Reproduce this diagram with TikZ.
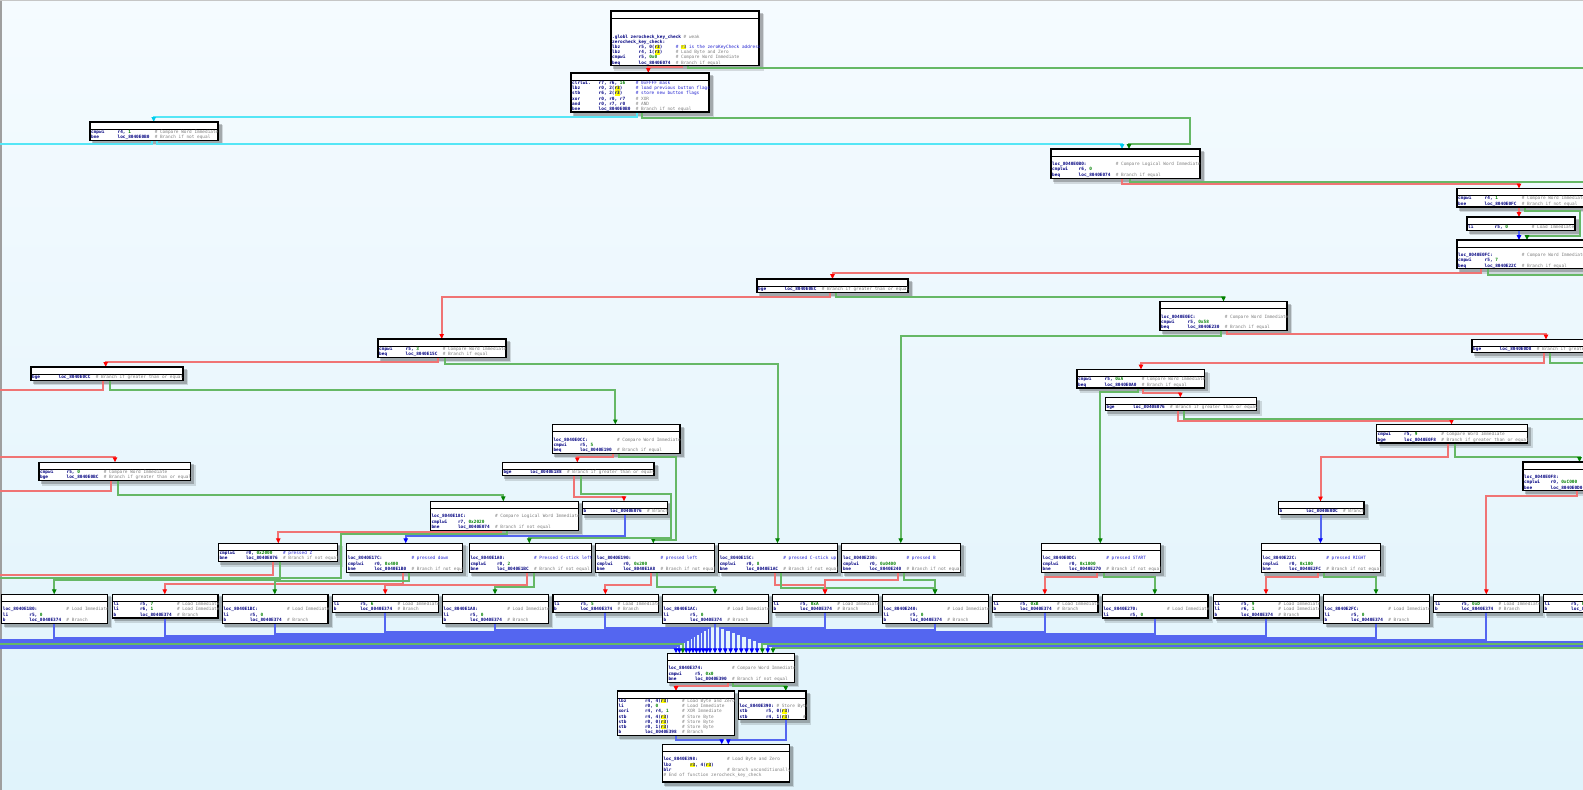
\documentclass[tikz,border=0pt]{standalone}
\usepackage{fontspec}
\newfontfamily\idamono{DejaVu Sans Mono}
\usetikzlibrary{arrows.meta}
\pgfdeclarelayer{back}
\pgfdeclarelayer{edges}
\pgfsetlayers{back,edges,main}
\definecolor{redl}{HTML}{F07474}
\definecolor{redd}{HTML}{FF0000}
\definecolor{greenl}{HTML}{66B866}
\definecolor{greend}{HTML}{008000}
\definecolor{bluel}{HTML}{5466F0}
\definecolor{blued}{HTML}{0000FF}
\definecolor{cyanl}{HTML}{55E6F6}
\definecolor{cyand}{HTML}{00CCEE}
\definecolor{idanavy}{HTML}{000080}
\definecolor{cgray}{HTML}{808080}
\definecolor{ublue}{HTML}{2020D0}
\definecolor{ngreen}{HTML}{008000}
\definecolor{hly}{HTML}{FFFF00}
\definecolor{bgtop}{HTML}{F5FBFF}
\definecolor{bgbot}{HTML}{E0F3FB}
\newcommand\idaf{\idamono\fontsize{4.4}{5.2}\selectfont\baselineskip=5.2pt\lineskiplimit=-4pt\lineskip=0pt}
\newlength\opc \setlength\opc{26.5pt}
\newlength\cmc \setlength\cmc{37.1pt}
\newcommand\inv[1]{{\bfseries\color{idanavy}#1}}
\newcommand\icm[1]{{\mdseries\color{cgray}\# #1}}
\newcommand\iuc[1]{{\mdseries\color{ublue}\# #1}}
\newcommand\inm[1]{{\color{ngreen}#1}}
\newcommand\Rg[1]{\rlap{\color{hly}\rule[-1pt]{5.3pt}{4.5pt}}#1}
\newcommand\In[3]{\hbox{\makebox[\opc][l]{\inv{#1}}\makebox[\cmc][l]{\inv{#2}}#3}}
\newcommand\Lb[2]{\hbox{\makebox[63.6pt][l]{\inv{#1}}#2}}
\newcommand\Eb{\hbox{}}
\newcommand\Clab[1]{\Eb\Lb{loc\_#1:}{\icm{Load Immediate}}\In{li}{r5, \inm{0}}{}\In{b}{loc\_8040E374}{\icm{Branch}}}
\newcommand\Cli[1]{\In{li}{r5, \inm{#1}}{\icm{Load Immediate}}\In{b}{loc\_8040E374}{\icm{Branch}}}
\tikzset{
  ed/.style={line width=2pt},
  er/.style={ed,draw=redl,-{Triangle[length=5pt,width=4.4pt,color=redd]}},
  erx/.style={ed,draw=redl},
  eg/.style={ed,draw=greenl,-{Triangle[length=5pt,width=4.4pt,color=greend]}},
  egx/.style={ed,draw=greenl},
  eb/.style={ed,draw=bluel,-{Triangle[length=5pt,width=4.4pt,color=blued]}},
  ec/.style={ed,draw=cyanl,-{Triangle[length=5pt,width=4.4pt,color=cyand]}},
  ecx/.style={ed,draw=cyanl},
  boxst/.style={draw=black,line width=1.2pt,fill=white,inner sep=0pt,outer sep=0pt,anchor=north west},
}
\newcommand\blk[6]{%
  \begin{pgfonlayer}{back}
    \fill[black,opacity=.22] (#2+2,#3+2) rectangle (#4+3.5,#5+3.5);
    \fill[black,opacity=.13] (#2+3,#3+3) rectangle (#4+5,#5+5);
  \end{pgfonlayer}
  \node[boxst,minimum width={(#4-#2)*1pt},minimum height={(#5-#3)*1pt}] (#1) at (#2,#3) {};
  \draw[line width=.9pt] (#2,#3+7) -- (#4,#3+7);
  \begin{scope}
    \clip (#2,#3) rectangle (#4,#5);
    \node[anchor=base west,inner sep=0pt,outer sep=0pt] at (#2+1.2,#3+11.4) {\idaf\vtop{#6}};
  \end{scope}%
}
\begin{document}
\begin{tikzpicture}[x=1pt,y=-1pt]
\useasboundingbox (0,0) rectangle (1583,790);
\begin{pgfonlayer}{back}
  \shade[top color=bgtop,bottom color=bgbot] (0,0) rectangle (1583,790);
  \fill[gray!75] (0,0) rectangle (1.6,790);
  \fill[gray!45] (0,0) rectangle (1583,0.8);
\end{pgfonlayer}

% ---------------- blocks ----------------
\blk{B0}{611}{11}{759}{65.5}{\Eb\Eb\Eb
  \hbox{\inv{.globl zerocheck\_key\_check} \icm{weak}}
  \hbox{\inv{zerocheck\_key\_check:}}
  \In{lbz}{r5, 0(\Rg{r3})}{\iuc{\Rg{r3} is the zeroKeyCheck address}}
  \In{lbz}{r4, 1(\Rg{r3})}{\icm{Load Byte and Zero}}
  \In{cmpwi}{r5, \inm{0x0}}{\icm{Compare Word Immediate}}
  \In{beq}{loc\_8040E074}{\icm{Branch if equal}}}
\blk{B1}{571}{73}{709}{112}{
  \In{clrlwi.}{r7, r6, \inm{16}}{\iuc{0xFFFF mask}}
  \In{lbz}{r0, 2(\Rg{r3})}{\iuc{load previous button flags}}
  \In{stb}{r6, 2(\Rg{r3})}{\iuc{store new button flags}}
  \In{xor}{r0, r0, r7}{\icm{XOR}}
  \In{and}{r0, r7, r0}{\icm{AND}}
  \In{bne}{loc\_8040E0B0}{\icm{Branch if not equal}}}
\blk{B2}{90}{122}{218}{140.4}{
  \In{cmpwi}{r4, \inm{1}}{\icm{Compare Word Immediate}}
  \In{bne}{loc\_8040E0B0}{\icm{Branch if not equal}}}
\blk{B3}{1051}{149}{1200}{178.8}{\Eb
  \Lb{loc\_8040E0B0:}{\icm{Compare Logical Word Immediate}}
  \In{cmplwi}{r6, \inm{0}}{}
  \In{beq}{loc\_8040E074}{\icm{Branch if equal}}}
\blk{B4}{1457}{188.5}{1600}{207}{
  \In{cmpwi}{r4, \inm{1}}{\icm{Compare Word Immediate}}
  \In{bne}{loc\_8040E0FC}{\icm{Branch if not equal}}}
\blk{B5}{1467}{217}{1575}{230.2}{
  \In{li}{r5, \inm{0}}{\icm{Load Immediate}}}
\blk{B6}{1457}{240}{1600}{268.8}{\Eb
  \Lb{loc\_8040E0FC:}{\icm{Compare Word Immediate}}
  \In{cmpwi}{r5, \inm{7}}{}
  \In{beq}{loc\_8040E22C}{\icm{Branch if equal}}}
\blk{B7}{757}{279}{908}{292.2}{
  \In{bge}{loc\_8040E0EC}{\icm{Branch if greater than or equal}}}
\blk{B8}{1160}{301.5}{1287}{330.3}{\Eb
  \Lb{loc\_8040E0EC:}{\icm{Compare Word Immediate}}
  \In{cmpwi}{r5, \inm{0x58}}{}
  \In{beq}{loc\_8040E230}{\icm{Branch if equal}}}
\blk{B9}{378}{339}{506}{357.4}{
  \In{cmpwi}{r5, \inm{3}}{\icm{Compare Word Immediate}}
  \In{beq}{loc\_8040E15C}{\icm{Branch if equal}}}
\blk{B10}{31}{367}{183}{380.2}{
  \In{bge}{loc\_8040E0CC}{\icm{Branch if greater than or equal}}}
\blk{B11}{39}{462.3}{190.7}{480.7}{
  \In{cmpwi}{r5, \inm{0}}{\icm{Compare Word Immediate}}
  \In{bge}{loc\_8040E0BC}{\icm{Branch if greater than or equal}}}
\blk{B12}{1472}{339.5}{1600}{352.7}{
  \In{bge}{loc\_8040E0D8}{\icm{Branch if greater than or equal}}}
\blk{B13}{1077}{369.5}{1204.5}{387.9}{
  \In{cmpwi}{r5, \inm{0xA}}{\icm{Compare Word Immediate}}
  \In{beq}{loc\_8040E0A0}{\icm{Branch if equal}}}
\blk{B14}{1105.4}{397.5}{1256.5}{410.7}{
  \In{bge}{loc\_8040E076}{\icm{Branch if greater than or equal}}}
\blk{B15}{1376.5}{424.5}{1527.5}{442.9}{
  \In{cmpwi}{r5, \inm{9}}{\icm{Compare Word Immediate}}
  \In{bge}{loc\_8040E0F8}{\icm{Branch if greater than or equal}}}
\blk{B16}{1523}{462}{1600}{490.8}{\Eb
  \Lb{loc\_8040E0F8:}{\icm{Compare Logical Word Immediate}}
  \In{cmplwi}{r0, \inm{0xC000}}{}
  \In{bne}{loc\_8040E0D0}{\icm{Branch if not equal}}}
\blk{B17}{1278.3}{501.5}{1364}{514.7}{
  \In{b}{loc\_8040E0DC}{\icm{Branch}}}
\blk{B18}{552.3}{424.5}{680}{453.3}{\Eb
  \Lb{loc\_8040E0CC:}{\icm{Compare Word Immediate}}
  \In{cmpwi}{r5, \inm{5}}{}
  \In{beq}{loc\_8040E190}{\icm{Branch if equal}}}
\blk{B19}{502.3}{462.5}{654}{475.7}{
  \In{bge}{loc\_8040E188}{\icm{Branch if greater than or equal}}}
\blk{B20}{582.3}{501.3}{667.3}{514.5}{
  \In{b}{loc\_8040E076}{\icm{Branch}}}
\blk{B21}{430.3}{501.3}{578.3}{530.1}{\Eb
  \Lb{loc\_8040E18C:}{\icm{Compare Logical Word Immediate}}
  \In{cmplwi}{r7, \inm{0x2020}}{}
  \In{bne}{loc\_8040E074}{\icm{Branch if not equal}}}
\blk{B22}{218.3}{543.3}{337.7}{561.7}{
  \In{cmplwi}{r0, \inm{0x2000}}{\iuc{pressed Z}}
  \In{bne}{loc\_8040E076}{\icm{Branch if not equal}}}
\blk{B23}{346.7}{543.3}{462.5}{572.1}{\Eb
  \Lb{loc\_8040E17C:}{\iuc{pressed down}}
  \In{cmplwi}{r0, \inm{0x400}}{}
  \In{bne}{loc\_8040E1B0}{\icm{Branch if not equal}}}
\blk{B24}{469.3}{543.3}{591.8}{572.1}{\Eb
  \Lb{loc\_8040E1A0:}{\iuc{Pressed C-stick left}}
  \In{cmplwi}{r0, \inm{2}}{}
  \In{bne}{loc\_8040E1BC}{\icm{Branch if not equal}}}
\blk{B25}{595.7}{543.3}{714.6}{572.1}{\Eb
  \Lb{loc\_8040E190:}{\iuc{pressed left}}
  \In{cmplwi}{r0, \inm{0x200}}{}
  \In{bne}{loc\_8040E1A8}{\icm{Branch if not equal}}}
\blk{B26}{718.6}{543.3}{837.5}{572.1}{\Eb
  \Lb{loc\_8040E15C:}{\iuc{pressed C-stick up}}
  \In{cmplwi}{r0, \inm{8}}{}
  \In{bne}{loc\_8040E1AC}{\icm{Branch if not equal}}}
\blk{B27}{841.8}{543.3}{960.7}{572.1}{\Eb
  \Lb{loc\_8040E230:}{\iuc{pressed B}}
  \In{cmplwi}{r0, \inm{0x0400}}{}
  \In{bne}{loc\_8040E240}{\icm{Branch if not equal}}}
\blk{B28}{1041.5}{543.3}{1160.8}{572.1}{\Eb
  \Lb{loc\_8040E0DC:}{\iuc{pressed START}}
  \In{cmplwi}{r0, \inm{0x1000}}{}
  \In{bne}{loc\_8040E270}{\icm{Branch if not equal}}}
\blk{B29}{1261.5}{543.3}{1380.8}{572.1}{\Eb
  \Lb{loc\_8040E22C:}{\iuc{pressed RIGHT}}
  \In{cmplwi}{r0, \inm{0x100}}{}
  \In{bne}{loc\_8040E2FC}{\icm{Branch if not equal}}}
% C row
\blk{C1}{1.7}{594.3}{107.4}{623.1}{\Clab{8040E1B0}}
\blk{C2}{112.3}{594.3}{218}{617.9}{
  \In{li}{r5, \inm{7}}{\icm{Load Immediate}}
  \In{li}{r6, \inm{1}}{\icm{Load Immediate}}
  \In{b}{loc\_8040E374}{\icm{Branch}}}
\blk{C3}{222.3}{594.3}{328}{623.1}{\Clab{8040E1BC}}
\blk{C4}{332.7}{594.3}{438.4}{612.7}{\Cli{6}}
\blk{C5}{442.5}{594.3}{548.2}{623.1}{\Clab{8040E1A8}}
\blk{C6}{552.9}{594.3}{658.6}{612.7}{\Cli{5}}
\blk{C7}{662.5}{594.3}{768.2}{623.1}{\Clab{8040E1AC}}
\blk{C8}{772.5}{594.3}{878.2}{612.7}{\Cli{0xA}}
\blk{C9}{882.5}{594.3}{988.2}{623.1}{\Clab{8040E240}}
\blk{C10}{992.3}{594.3}{1098}{612.7}{\Cli{0xB}}
\blk{C11}{1102.3}{594.3}{1208}{617.9}{\Eb
  \Lb{loc\_8040E270:}{\icm{Load Immediate}}
  \In{li}{r5, \inm{0}}{}}
\blk{C12}{1213.5}{594.3}{1319.2}{617.9}{
  \In{li}{r5, \inm{9}}{\icm{Load Immediate}}
  \In{li}{r6, \inm{1}}{\icm{Load Immediate}}
  \In{b}{loc\_8040E374}{\icm{Branch}}}
\blk{C13}{1323.5}{594.3}{1429.2}{623.1}{\Clab{8040E2FC}}
\blk{C14}{1433.8}{594.3}{1539.5}{612.7}{\Cli{0xD}}
\blk{C15}{1543.5}{594.3}{1649.2}{612.7}{\Cli{0xC}}
% bottom
\blk{D1}{667.3}{653.3}{794.3}{682.1}{\Eb
  \Lb{loc\_8040E374:}{\icm{Compare Word Immediate}}
  \In{cmpwi}{r5, \inm{0x0}}{}
  \In{bne}{loc\_8040E390}{\icm{Branch if not equal}}}
\blk{D2}{617.3}{691}{734.3}{735.4}{
  \In{lbz}{r4, 4(\Rg{r3})}{\icm{Load Byte and Zero}}
  \In{li}{r0, \inm{0}}{\icm{Load Immediate}}
  \In{xori}{r4, r4, \inm{1}}{\icm{XOR Immediate}}
  \In{stb}{r4, 4(\Rg{r3})}{\icm{Store Byte}}
  \In{stb}{r0, 0(\Rg{r3})}{\icm{Store Byte}}
  \In{stb}{r0, 1(\Rg{r3})}{\icm{Store Byte}}
  \In{b}{loc\_8040E398}{\icm{Branch}}}
\blk{D3}{738.3}{691}{806}{719.8}{\Eb
  \hbox{\makebox[37pt][l]{\inv{loc\_8040E390:}}\icm{Store Byte}}
  \In{stb}{r5, 0(\Rg{r3})}{}
  \In{stb}{r4, 1(\Rg{r3})}{\icm{Store Byte}}}
\blk{D4}{662.3}{744.3}{789.3}{782}{\Eb
  \Lb{loc\_8040E398:}{\icm{Load Byte and Zero}}
  \In{lbz}{\Rg{r3}, 4(\Rg{r3})}{}
  \In{blr}{}{\icm{Branch unconditionally}}
  \hbox{\icm{End of function zerocheck\_key\_check}}
  \Eb}

% free ends
\coordinate (xa) at (1583,68.2);
\coordinate (xb) at (0,143.5);
\coordinate (xc) at (1583,181.5);
\coordinate (xd) at (1583,275);
\coordinate (xe) at (0,390);
\coordinate (xf) at (0,456.7);
\coordinate (xg) at (0,490.5);
\coordinate (xh) at (1583,362.5);
\coordinate (xi) at (1583,418.5);
\coordinate (xj) at (0,577.8);
\coordinate (xk) at (0,575.4);
\coordinate (bl6) at (0,639.5);
\coordinate (bl7) at (0,641.5);
\coordinate (bl8) at (0,643.5);
\coordinate (bl9) at (0,645.5);
\coordinate (bl10) at (0,647.5);
\coordinate (br7) at (1583,641.5);
\coordinate (br8) at (1583,643.5);
\coordinate (br9) at (1583,645.5);
\coordinate (br10) at (1583,647.5);

% ---------------- edges ----------------
\begin{pgfonlayer}{edges}
\draw[er] (B0.south -| 681.7,0) |- (648.3,66.7) -- (B1.north -| 648.3,0);
\draw[egx] (B0.south -| 688.3,0) |- (xa);
\draw[ec] (B1.south -| 637.3,0) |- (153.7,117) -- (B2.north -| 153.7,0);
\draw[eg] (B1.south -| 642.3,0) |- (1190,118) |- (1129,144) -- (B3.north -| 1129,0);
\draw[ec] (B2.south -| 156.7,0) |- (1122,143.5) -- (B3.north -| 1122,0);
\draw[ecx] (B2.south -| 151.5,0) |- (xb);
\draw[er] (B3.south -| 1122,0) |- (1519,183.5) -- (B4.north -| 1519,0);
\draw[egx] (B3.south -| 1130,0) |- (xc);
\draw[er] (B4.south -| 1519,0) -- (B5.north -| 1519,0);
\draw[eg] (B4.south -| 1525,0) |- (1580,210.5) |- (1527,235.5) -- (B6.north -| 1527,0);
\draw[eb] (B5.south -| 1519,0) -- (B6.north -| 1519,0);
\draw[er] (B6.south -| 1481,0) |- (832.5,273) -- (B7.north -| 832.5,0);
\draw[egx] (B6.south -| 1488,0) |- (xd);
\draw[er] (B7.south -| 830,0) |- (441.7,296.5) -- (B9.north -| 441.7,0);
\draw[eg] (B7.south -| 836,0) |- (1223.5,296.5) -- (B8.north -| 1223.5,0);
\draw[er] (B8.south -| 1227,0) |- (1546,334) -- (B12.north -| 1546,0);
\draw[eg] (B8.south -| 1221,0) |- (900.7,335.5) -- (B27.north -| 900.7,0);
\draw[er] (B9.south -| 438.3,0) |- (105.7,361.7) -- (B10.north -| 105.7,0);
\draw[eg] (B9.south -| 445,0) |- (777.5,363.5) -- (B26.north -| 777.5,0);
\draw[erx] (B10.south -| 102.7,0) |- (xe);
\draw[eg] (B10.south -| 110,0) |- (615.3,390) -- (B18.north -| 615.3,0);
\draw[er] (xf) -| (B11.north -| 115,0);
\draw[erx] (B11.south -| 111,0) |- (xg);
\draw[eg] (B11.south -| 117.7,0) |- (503.3,494.7) -- (B21.north -| 503.3,0);
\draw[er] (B12.south -| 1544,0) |- (1141,362.5) -- (B13.north -| 1141,0);
\draw[egx] (B12.south -| 1550,0) |- (xh);
\draw[er] (B13.south -| 1142.9,0) |- (1180.3,392.5) -- (B14.north -| 1180.3,0);
\draw[eg] (B13.south -| 1137.8,0) |- (1100.3,391.5) -- (B28.north -| 1100.3,0);
\draw[er] (B14.south -| 1177.6,0) |- (1451.5,421) -- (B15.north -| 1451.5,0);
\draw[egx] (B14.south -| 1183.7,0) |- (xi);
\draw[er] (B15.south -| 1448.3,0) |- (1320.5,456.7) -- (B17.north -| 1320.5,0);
\draw[eg] (B15.south -| 1455,0) |- (1579.5,456.7) -- (B16.north -| 1579.5,0);
\draw[er] (B16.south -| 1577,0) |- (1486.3,495.5) -- (C14.north -| 1486.3,0);
\draw[eb] (B17.south -| 1320.5,0) -- (B29.north -| 1320.5,0);
\draw[er] (B18.south -| 613.3,0) |- (577.3,456.7) -- (B19.north -| 577.3,0);
\draw[eg] (B18.south -| 618.7,0) |- (675.5,456.7) |- (653.3,540) -- (B25.north -| 653.3,0);
\draw[er] (B19.south -| 574,0) |- (624,496.5) -- (B20.north -| 624,0);
\draw[eg] (B19.south -| 580.7,0) |- (670.5,493.5) |- (529.3,538.3) -- (B24.north -| 529.3,0);
\draw[eb] (B20.south -| 625,0) |- (405.7,536) -- (B23.north -| 405.7,0);
\draw[er] (B21.south -| 500.7,0) |- (278.3,532) -- (B22.north -| 278.3,0);
\draw[egx] (B21.south -| 506.7,0) |- (341,534.3) |- (xj);
\draw[erx] (B22.south -| 273.3,0) |- (xk);
\draw[eg] (B22.south -| 280,0) |- (54.2,580) -- (C1.north -| 54.2,0);
\draw[er] (B23.south -| 403.3,0) |- (164.8,583.5) -- (C2.north -| 164.8,0);
\draw[eg] (B23.south -| 409,0) |- (274.8,581.2) -- (C3.north -| 274.8,0);
\draw[er] (B24.south -| 527,0) |- (385.2,584.5) -- (C4.north -| 385.2,0);
\draw[eg] (B24.south -| 534.3,0) |- (495,587) -- (C5.north -| 495,0);
\draw[er] (B25.south -| 651.4,0) |- (605.4,584.5) -- (C6.north -| 605.4,0);
\draw[eg] (B25.south -| 657,0) |- (715,587) -- (C7.north -| 715,0);
\draw[er] (B26.south -| 774.6,0) |- (825,584.5) -- (C8.north -| 825,0);
\draw[eg] (B26.south -| 780.7,0) |- (935,588) -- (C9.north -| 935,0);
\draw[er] (B27.south -| 897.9,0) |- (825,580) -- (C8.north -| 825,0);
\draw[eg] (B27.south -| 904.3,0) |- (935,580) -- (C9.north -| 935,0);
\draw[er] (B28.south -| 1097.3,0) |- (1044.8,576.7) -- (C10.north -| 1044.8,0);
\draw[eg] (B28.south -| 1103.8,0) |- (1154.8,576.7) -- (C11.north -| 1154.8,0);
\draw[er] (B29.south -| 1317.7,0) |- (1266,576.7) -- (C12.north -| 1266,0);
\draw[eg] (B29.south -| 1323.5,0) |- (1376,576.7) -- (C13.north -| 1376,0);
% bus into D1 : left group
\draw[eb] (C6.south -| 605.4,0) |- (710,627.5) -- (D1.north -| 710,0);
\draw[eb] (C5.south -| 495,0) |- (706.6,629.5) -- (D1.north -| 706.6,0);
\draw[eb] (C4.south -| 385.2,0) |- (703.2,631.5) -- (D1.north -| 703.2,0);
\draw[eb] (C3.south -| 274.8,0) |- (699.8,633.5) -- (D1.north -| 699.8,0);
\draw[eb] (C2.south -| 164.8,0) |- (696.4,635.5) -- (D1.north -| 696.4,0);
\draw[eb] (C1.south -| 54.2,0) |- (693,637.5) -- (D1.north -| 693,0);
\draw[eb] (bl6) -| (D1.north -| 689.6,0);
\draw[eb] (bl7) -| (D1.north -| 686.2,0);
\draw[eg] (bl8) -| (D1.north -| 682.8,0);
\draw[eb] (bl9) -| (D1.north -| 679.4,0);
\draw[eb] (bl10) -| (D1.north -| 676,0);
% center
\draw[eb] (C7.south -| 715,0) -- (D1.north -| 715,0);
% right group
\draw[eb] (C8.south -| 825,0) |- (720,627.5) -- (D1.north -| 720,0);
\draw[eb] (C9.south -| 935,0) |- (725.3,629.5) -- (D1.north -| 725.3,0);
\draw[eb] (C10.south -| 1044.8,0) |- (730.6,631.5) -- (D1.north -| 730.6,0);
\draw[eb] (C11.south -| 1154.8,0) |- (735.9,633.5) -- (D1.north -| 735.9,0);
\draw[eb] (C12.south -| 1266,0) |- (741.2,635.5) -- (D1.north -| 741.2,0);
\draw[eb] (C13.south -| 1376,0) |- (746.5,637.5) -- (D1.north -| 746.5,0);
\draw[eb] (C14.south -| 1486.3,0) |- (751.8,639.5) -- (D1.north -| 751.8,0);
\draw[eb] (br7) -| (D1.north -| 757.1,0);
\draw[eg] (br8) -| (D1.north -| 762.4,0);
\draw[eb] (br9) -| (D1.north -| 767.7,0);
\draw[eg] (br10) -| (D1.north -| 773,0);
% bottom
\draw[er] (D1.south -| 727.7,0) |- (676,685.5) -- (D2.north -| 676,0);
\draw[eg] (D1.south -| 733.3,0) |- (785.7,685.5) -- (D3.north -| 785.7,0);
\draw[eb] (D2.south -| 676,0) |- (721.7,739.5) -- (D4.north -| 721.7,0);
\draw[eb] (D3.south -| 785.7,0) |- (728.3,739.5) -- (D4.north -| 728.3,0);
\end{pgfonlayer}
\end{tikzpicture}
\end{document}
